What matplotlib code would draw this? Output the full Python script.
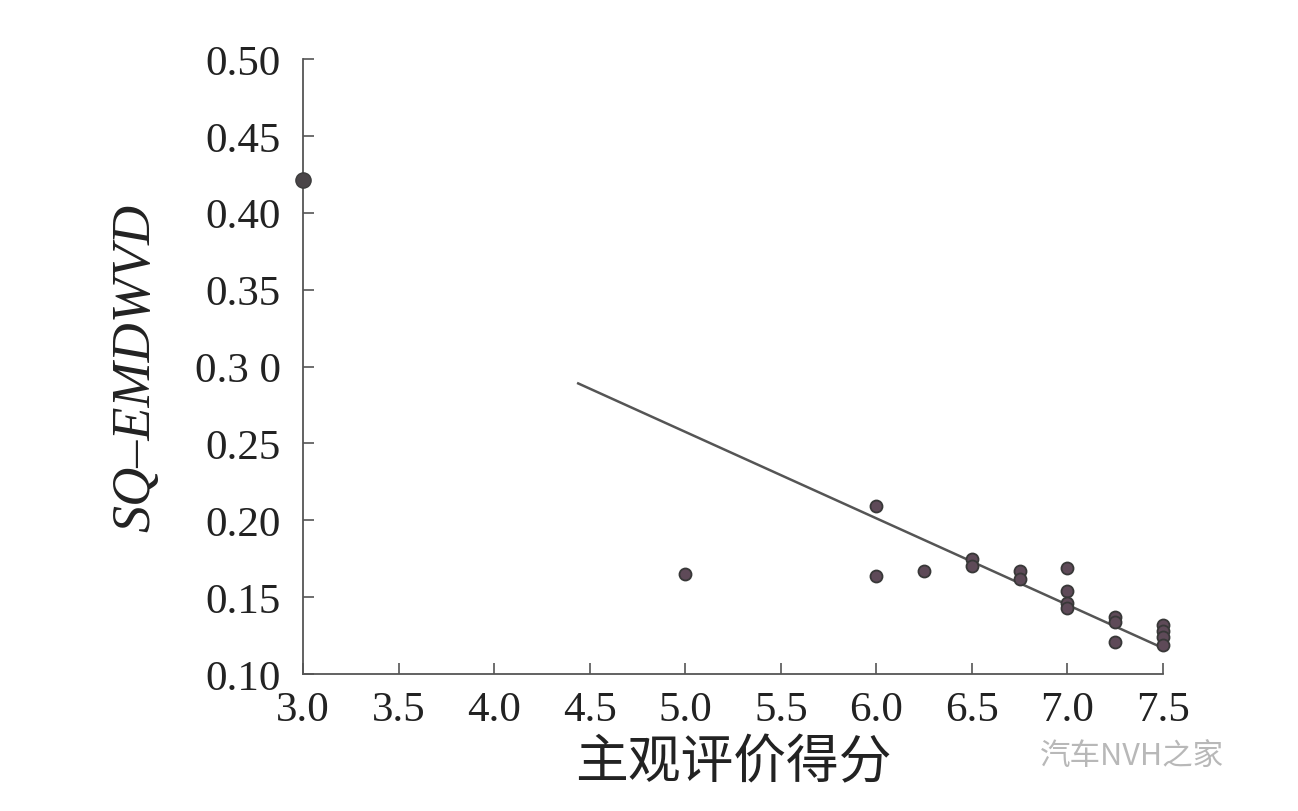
import matplotlib
matplotlib.use("Agg")
from matplotlib import pyplot as plt

# subjective score vs SQ-EMDWVD
score = [3.0, 5.0, 6.0, 6.0, 6.25, 6.5, 6.5, 6.75, 6.75, 7.0, 7.0, 7.0, 7.0,
         7.25, 7.25, 7.25, 7.5, 7.5, 7.5, 7.5]
emd = [0.421, 0.165, 0.209, 0.164, 0.167, 0.175, 0.170, 0.167, 0.162, 0.169, 0.154, 0.146, 0.143,
       0.137, 0.134, 0.121, 0.132, 0.128, 0.124, 0.119]

fit_x = [4.44, 7.48]
fit_y = [0.289, 0.118]

xticks = [3.0, 3.5, 4.0, 4.5, 5.0, 5.5, 6.0, 6.5, 7.0, 7.5]
xlabels = ["3.0", "3.5", "4.0", "4.5", "5.0", "5.5", "6.0", "6.5", "7.0", "7.5"]
yticks = [0.10, 0.15, 0.20, 0.25, 0.30, 0.35, 0.40, 0.45, 0.50]
ylabels = ["0.10", "0.15", "0.20", "0.25", "0.3 0", "0.35", "0.40", "0.45", "0.50"]

fig = plt.figure(figsize=(12.98, 8.12), dpi=100)
ax = fig.add_axes([303 / 1298, 137 / 812, 860 / 1298, 615 / 812])

ax.plot(fit_x, fit_y, color="#555555", lw=1.8, zorder=2)
ax.scatter(score[1:], emd[1:], s=75, facecolor="#5e4a58", edgecolor="#383838", lw=1.3, zorder=3, clip_on=False)
ax.scatter(score[:1], emd[:1], s=120, facecolor="#4a4548", edgecolor="#3c3c3c", lw=1.0, zorder=3, clip_on=False)

ax.set_xlim(3.0, 7.5)
ax.set_ylim(0.10, 0.50)
ax.set_xticks(xticks)
ax.set_xticklabels(xlabels)
ax.set_yticks(yticks)
ax.set_yticklabels(ylabels)

for s in ["top", "right"]:
    ax.spines[s].set_visible(False)
for s in ["left", "bottom"]:
    ax.spines[s].set_color("#555555")
    ax.spines[s].set_linewidth(1.3)

ax.tick_params(direction="in", length=8, width=1.2, color="#555555",
               labelsize=31, labelcolor="#222222")
ax.tick_params(axis="x", pad=12)
ax.tick_params(axis="y", pad=16)
for lab in ax.get_xticklabels() + ax.get_yticklabels():
    lab.set_family(["Liberation Serif", "DejaVu Serif"])

ax.set_ylabel("SQ\u2013EMDWVD", fontsize=39, family=["Liberation Serif"], style="italic",
              color="#222222", labelpad=24)
ax.set_xlabel("主观评价得分", fontsize=38, family=["Noto Sans CJK SC", "DejaVu Sans"],
              weight="light", color="#222222", labelpad=4)

fig.text(1040 / 1298, 1 - 757 / 812, "汽车NVH之家", fontsize=22, color="#b8b8b8",
         family=["Noto Sans CJK SC", "DejaVu Sans"], weight="light", va="center", ha="left")

fig.savefig("out.png", dpi=100, facecolor="white")
